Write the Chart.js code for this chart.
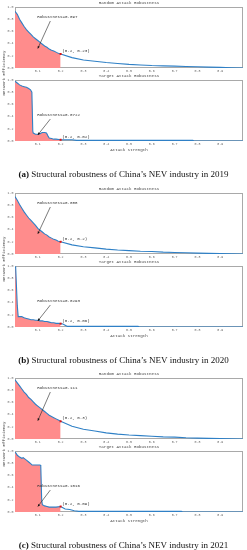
<!DOCTYPE html>
<html lang="en">
<head>
<meta charset="UTF-8">
<title>Structural robustness of China's NEV industry</title>
<script src="https://cdn.jsdelivr.net/npm/chart.js"></script>
<style>
  html, body { margin: 0; padding: 0; background: #fff; }
  body { width: 247px; height: 550px; position: relative; overflow: hidden; }
  canvas.plot, canvas.ylab { position: absolute; left: 0; }
  .caption {
    position: absolute; left: 0; width: 247px; text-align: center;
    font: 9px 'Liberation Serif', serif; line-height: 10px; color: #111;
  }
</style>
</head>
<body>
<script>
  // attack strength grid used by the random-attack curves
  const randomX = [0, 0.01, 0.02, 0.03, 0.04, 0.05, 0.06, 0.07, 0.08, 0.09, 0.1,
    0.11, 0.12, 0.13, 0.14, 0.15, 0.16, 0.17, 0.18, 0.19, 0.2,
    0.25, 0.3, 0.35, 0.4, 0.45, 0.5, 0.55, 0.6, 0.65, 0.7, 0.75, 0.8, 0.85, 0.9, 0.95, 1.0];
  const random2019 = [0.93, 0.88, 0.80, 0.74, 0.68, 0.63, 0.59, 0.55, 0.51, 0.48, 0.45,
    0.42, 0.39, 0.36, 0.34, 0.31, 0.29, 0.28, 0.26, 0.24, 0.23,
    0.17, 0.13, 0.11, 0.09, 0.075, 0.06, 0.05, 0.04, 0.035, 0.03, 0.025, 0.02, 0.015, 0.01, 0.005, 0];
  const random2020 = [0.94, 0.88, 0.81, 0.75, 0.69, 0.64, 0.59, 0.55, 0.51, 0.47, 0.42,
    0.39, 0.36, 0.33, 0.31, 0.28, 0.26, 0.24, 0.23, 0.21, 0.20,
    0.15, 0.12, 0.1, 0.08, 0.065, 0.055, 0.045, 0.04, 0.03, 0.025, 0.02, 0.015, 0.01, 0.008, 0.005, 0];
  const random2021 = [0.97, 0.92, 0.87, 0.82, 0.77, 0.73, 0.68, 0.65, 0.61, 0.57, 0.54,
    0.51, 0.48, 0.45, 0.42, 0.39, 0.37, 0.35, 0.33, 0.31, 0.29,
    0.21, 0.16, 0.13, 0.1, 0.08, 0.065, 0.055, 0.045, 0.035, 0.03, 0.02, 0.015, 0.01, 0.008, 0.004, 0];

  // target attack curves (own x points, they have steep drops)
  const target2019X = [0, 0.01, 0.02, 0.03, 0.04, 0.05, 0.06, 0.068, 0.074, 0.078, 0.08, 0.09, 0.1, 0.11,
    0.115, 0.12, 0.13, 0.138, 0.145, 0.15, 0.16, 0.17, 0.18, 0.2, 0.22, 0.25, 0.27, 0.3, 0.4, 0.5, 0.6, 0.7,
    0.78, 0.785, 0.9, 1.0];
  const target2019Y = [0.98, 0.95, 0.92, 0.9, 0.89, 0.88, 0.86, 0.84, 0.8, 0.16, 0.13, 0.11, 0.11, 0.12,
    0.13, 0.14, 0.14, 0.13, 0.08, 0.05, 0.04, 0.03, 0.03, 0.02, 0.02, 0.02, 0.01, 0.01, 0.01, 0.01, 0.01, 0.01,
    0.01, 0, 0, 0];
  const target2020X = [0, 0.003, 0.006, 0.01, 0.014, 0.02, 0.03, 0.035, 0.04, 0.05, 0.06, 0.07, 0.08, 0.09,
    0.1, 0.11, 0.12, 0.13, 0.14, 0.15, 0.16, 0.17, 0.18, 0.19, 0.2, 0.21, 0.22, 0.23, 0.3, 0.4, 0.5, 0.54,
    0.545, 0.7, 1.0];
  const target2020Y = [0.99, 0.97, 0.7, 0.35, 0.17, 0.17, 0.17, 0.16, 0.15, 0.14, 0.13, 0.12, 0.12, 0.11,
    0.11, 0.1, 0.1, 0.09, 0.09, 0.08, 0.07, 0.07, 0.06, 0.06, 0.055, 0.05, 0.03, 0.01, 0.01, 0.01, 0.01, 0.01,
    0, 0, 0];
  const target2021X = [0, 0.005, 0.01, 0.02, 0.03, 0.036, 0.04, 0.05, 0.06, 0.07, 0.075, 0.09, 0.1, 0.11,
    0.113, 0.117, 0.12, 0.13, 0.14, 0.15, 0.16, 0.18, 0.2, 0.21, 0.22, 0.24, 0.26, 0.28, 0.4, 0.6, 0.73,
    0.735, 0.9, 1.0];
  const target2021Y = [0.98, 0.96, 0.93, 0.9, 0.88, 0.89, 0.88, 0.85, 0.82, 0.79, 0.77, 0.77, 0.77, 0.77,
    0.76, 0.2, 0.12, 0.1, 0.09, 0.08, 0.08, 0.08, 0.09, 0.07, 0.05, 0.04, 0.02, 0.01, 0.01, 0.01, 0.01,
    0, 0, 0];

  const robustness = ['0.097', '0.0722', '0.088', '0.0293', '0.111', '0.1016'];
  const pointLabels = ['(0.2, 0.23)', '(0.2, 0.02)', '(0.2, 0.2)', '(0.2, 0.06)', '(0.2, 0.3)', '(0.2, 0.09)'];
  const arrowTips = [0.32, 0.1, 0.33, 0.1, 0.3, 0.09];
  const xTickValues = [0.1, 0.2, 0.3, 0.4, 0.5, 0.6, 0.7, 0.8, 0.9];
  const captions = [
    ['(a)', 'Structural robustness of China’s NEV industry in 2019'],
    ['(b)', 'Structural robustness of China’s NEV industry in 2020'],
    ['(c)', 'Structural robustness of China’s NEV industry in 2021']
  ];

  const cutX = 0.2;
  const groupTops = [7, 193, 378];
  const plotH = 61;
  const FILL = 'rgb(255, 140, 140)';
  const LINE = '#2f80c6';
  const TICK_FONT = { family: "'Liberation Mono', monospace", size: 3.3 };
  const TEXT_FONT = "4.2px 'Liberation Mono', monospace";

  const panels = [
    { x: randomX, y: random2019, title: 'Random Attack Robustness' },
    { x: target2019X, y: target2019Y, title: 'Target Attack Robustness', xTitle: true },
    { x: randomX, y: random2020, title: 'Random Attack Robustness' },
    { x: target2020X, y: target2020Y, title: 'Target Attack Robustness', xTitle: true },
    { x: randomX, y: random2021, title: 'Random Attack Robustness' },
    { x: target2021X, y: target2021Y, title: 'Target Attack Robustness', xTitle: true }
  ];

  function overlay(p, i) {
    return {
      id: 'overlay' + i,
      beforeDatasetsDraw(chart) {
        const ctx = chart.ctx, a = chart.chartArea;
        ctx.save();
        ctx.strokeStyle = '#a9a9a9';
        ctx.lineWidth = 1;
        ctx.strokeRect(a.left + 0.5, a.top + 0.5, a.right - a.left - 1, a.bottom - a.top - 1);
        ctx.restore();
      },
      afterDatasetsDraw(chart) {
        const ctx = chart.ctx, a = chart.chartArea;
        const xs = chart.scales.x, ys = chart.scales.y;
        const markY = p.y[p.x.indexOf(cutX)];
        const textY = i % 2 === 0 ? 0.84 : 0.43;
        ctx.save();
        ctx.font = TEXT_FONT;
        ctx.fillStyle = '#444';
        ctx.textAlign = 'center';
        ctx.textBaseline = 'middle';
        ctx.fillText(p.title, (a.left + a.right) / 2, a.top - 3.7);
        if (p.xTitle) ctx.fillText('Attack Strength', (a.left + a.right) / 2, a.bottom + 8.5);

        ctx.fillStyle = '#333';
        ctx.textAlign = 'left';
        ctx.fillText('Robustness=' + robustness[i], xs.getPixelForValue(0.098), ys.getPixelForValue(textY));
        ctx.fillText(pointLabels[i], xs.getPixelForValue(0.207), ys.getPixelForValue(markY + 0.05));

        // arrow from the text down into the filled area
        const x0 = xs.getPixelForValue(0.155), y0 = ys.getPixelForValue(textY - 0.07);
        const x1 = xs.getPixelForValue(0.1), y1 = ys.getPixelForValue(arrowTips[i]);
        const ang = Math.atan2(y1 - y0, x1 - x0);
        ctx.strokeStyle = '#222';
        ctx.lineWidth = 0.6;
        ctx.beginPath();
        ctx.moveTo(x0, y0);
        ctx.lineTo(x1, y1);
        ctx.stroke();
        ctx.fillStyle = '#111';
        ctx.beginPath();
        ctx.moveTo(x1, y1);
        ctx.lineTo(x1 - 2.6 * Math.cos(ang - 0.45), y1 - 2.6 * Math.sin(ang - 0.45));
        ctx.lineTo(x1 - 2.6 * Math.cos(ang + 0.45), y1 - 2.6 * Math.sin(ang + 0.45));
        ctx.closePath();
        ctx.fill();
        ctx.restore();
      }
    };
  }

  panels.forEach((p, i) => {
    const g = Math.floor(i / 2);
    const plotTop = groupTops[g] + (i % 2) * 73;
    const cv = document.createElement('canvas');
    cv.className = 'plot';
    cv.width = 247;
    cv.height = 9 + plotH + 14;
    cv.style.top = (plotTop - 9) + 'px';
    document.body.appendChild(cv);

    const pts = p.x.map((x, k) => ({ x: x, y: p.y[k] }));
    const area = pts.filter(d => d.x <= cutX + 1e-9);
    const mark = pts.filter(d => d.x === cutX);

    new Chart(cv, {
      type: 'line',
      data: {
        datasets: [
          { data: mark, showLine: false, pointStyle: 'rect', pointRadius: 1.4,
            pointBackgroundColor: '#e01010', pointBorderWidth: 0, order: 0 },
          { data: pts, borderColor: LINE, borderWidth: 1.1, pointRadius: 0, fill: false, order: 1 },
          { data: area, borderWidth: 0, pointRadius: 0, fill: 'origin', backgroundColor: FILL, order: 2 }
        ]
      },
      options: {
        responsive: false,
        animation: false,
        layout: { padding: { top: 9, bottom: 8, left: 0, right: 3 } },
        plugins: { legend: { display: false }, tooltip: { enabled: false } },
        scales: {
          x: {
            type: 'linear', min: 0, max: 1,
            grid: { display: false, drawTicks: false },
            border: { display: false },
            afterBuildTicks: s => { s.ticks = xTickValues.map(v => ({ value: v })); },
            afterFit: s => { s.height = 6; },
            ticks: { autoSkip: false, maxRotation: 0, padding: 1.2, color: '#666', font: TICK_FONT,
              callback: v => v.toFixed(1) }
          },
          y: {
            min: 0, max: 1,
            grid: { display: false, drawTicks: false },
            border: { display: false },
            afterFit: s => { s.width = 15; },
            ticks: { stepSize: 0.2, padding: 1.5, color: '#666', font: TICK_FONT,
              callback: v => v.toFixed(1) }
          }
        }
      },
      plugins: [overlay(p, i)]
    });
  });

  groupTops.forEach((t, g) => {
    // shared y-axis title, drawn on its own small canvas
    const lab = document.createElement('canvas');
    lab.className = 'ylab';
    lab.width = 8;
    lab.height = 70;
    lab.style.top = (t + 66 - 35) + 'px';
    document.body.appendChild(lab);
    const c = lab.getContext('2d');
    c.translate(3.5, 35);
    c.rotate(-Math.PI / 2);
    c.font = TEXT_FONT;
    c.fillStyle = '#444';
    c.textAlign = 'center';
    c.textBaseline = 'middle';
    c.fillText('Network Efficiency', 0, 0);

    const cap = document.createElement('div');
    cap.className = 'caption';
    cap.style.top = (t + 162) + 'px';
    cap.innerHTML = '<b>' + captions[g][0] + '</b> ' + captions[g][1];
    document.body.appendChild(cap);
  });
</script>
</body>
</html>
